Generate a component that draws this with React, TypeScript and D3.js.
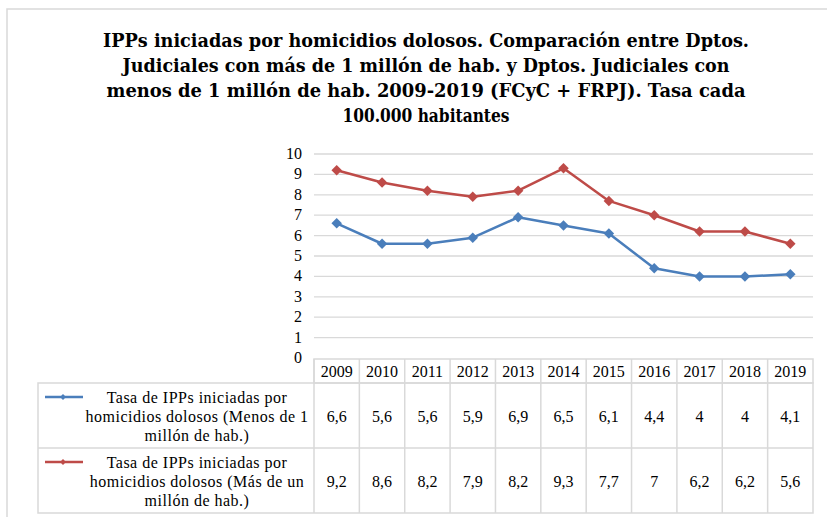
import * as d3 from "d3";
import React from "react";

const years = ["2009", "2010", "2011", "2012", "2013", "2014", "2015", "2016", "2017", "2018", "2019"];
const menosValues = [6.6, 5.6, 5.6, 5.9, 6.9, 6.5, 6.1, 4.4, 4, 4, 4.1];
const masValues = [9.2, 8.6, 8.2, 7.9, 8.2, 9.3, 7.7, 7, 6.2, 6.2, 5.6];
const yTicks = [0, 1, 2, 3, 4, 5, 6, 7, 8, 9, 10];

const titleLines = [
  "IPPs iniciadas por homicidios  dolosos. Comparación  entre Dptos.",
  "Judiciales con más de 1 millón de hab. y Dptos. Judiciales con",
  "menos de 1 millón de hab. 2009-2019 (FCyC + FRPJ). Tasa cada",
  "100.000 habitantes",
];
const titleWidths = [646, 607, 639, 167];

const series = [
  {
    name: ["Tasa de IPPs iniciadas por", "homicidios dolosos (Menos de 1", "millón de hab.)"],
    values: menosValues,
    color: "#4a7ebb",
  },
  {
    name: ["Tasa de IPPs iniciadas por", "homicidios dolosos (Más de un", "millón de hab.)"],
    values: masValues,
    color: "#be4b48",
  },
];

const fmt = (v: number) => String(v).replace(".", ",");

export default function App() {
  const width = 827;
  const height = 517;
  const font = '"Liberation Serif", "Times New Roman", "DejaVu Serif", serif';
  const titleFont = '"DejaVu Serif", serif';
  const grid = "#d9d9d9";

  const plotLeft = 314;
  const plotRight = 813;
  const x = d3.scaleBand().domain(years).range([plotLeft, plotRight]);
  const y = d3.scaleLinear().domain([0, 10]).range([358, 154]);

  const headerTop = 359;
  const headerBottom = 383;
  const rowH = 65;
  const legendLeft = 38;

  const diamond = d3.symbol().type(d3.symbolDiamond2).size(70);
  const smallDiamond = d3.symbol().type(d3.symbolDiamond2).size(22);

  const cx = (i: number) => (x(years[i]) as number) + x.bandwidth() / 2;

  const line = d3
    .line<number>()
    .x((_, i) => cx(i))
    .y((d) => y(d));

  return (
    <svg
      width={width}
      height={height}
      style={{ position: "absolute", left: 0, top: 0, background: "white", fontFamily: font }}
    >
      {/* chart border */}
      <rect x={7} y={9} width={width} height={height} fill="white" stroke={grid} strokeWidth={1.5} />

      {/* title */}
      {titleLines.map((t, i) => (
        <text
          key={i}
          x={426}
          y={47 + i * 25}
          textAnchor="middle"
          fontSize={18}
          fontWeight="bold"
          fill="#000"
          style={{ fontFamily: titleFont }}
          textLength={titleWidths[i]}
          lengthAdjust="spacingAndGlyphs"
        >
          {t}
        </text>
      ))}

      {/* gridlines */}
      {yTicks.slice(1).map((t) => (
        <line key={t} x1={plotLeft} x2={plotRight} y1={y(t)} y2={y(t)} stroke={grid} strokeWidth={1.3} />
      ))}

      {/* y labels */}
      {yTicks.map((t) => (
        <text key={t} x={302} y={y(t) + 5} textAnchor="end" fontSize={16} fill="#000" style={{ fontFamily: font }}>
          {t}
        </text>
      ))}

      {/* lines */}
      {series.map((s, si) => (
        <g key={si}>
          <path d={line(s.values) as string} fill="none" stroke={s.color} strokeWidth={2.5} strokeLinejoin="round" />
          {s.values.map((v, i) => (
            <path key={i} d={diamond() as string} transform={`translate(${cx(i)},${y(v)})`} fill={s.color} />
          ))}
        </g>
      ))}

      {/* data table */}
      <g stroke={grid} strokeWidth={1.5} fill="none">
        <rect x={plotLeft} y={headerTop} width={plotRight - plotLeft} height={headerBottom - headerTop} />
        <rect x={legendLeft} y={headerBottom} width={plotRight - legendLeft} height={rowH * 2} />
        <line x1={legendLeft} x2={plotRight} y1={headerBottom + rowH} y2={headerBottom + rowH} />
        {years.map((yr) => (
          <line key={yr} x1={x(yr)} x2={x(yr)} y1={headerTop} y2={headerBottom + rowH * 2} />
        ))}
      </g>

      {years.map((yr, i) => (
        <text key={yr} x={cx(i)} y={headerBottom - 6} textAnchor="middle" fontSize={16} fill="#000" style={{ fontFamily: font }}>
          {yr}
        </text>
      ))}

      {series.map((s, si) => {
        const top = headerBottom + si * rowH;
        return (
          <g key={si}>
            <line x1={45} x2={83} y1={top + 14} y2={top + 14} stroke={s.color} strokeWidth={2.5} />
            <path d={smallDiamond() as string} transform={`translate(63,${top + 14})`} fill={s.color} />
            {s.name.map((n, li) => (
              <text
                key={li}
                x={197}
                y={top + 20 + li * 19}
                textAnchor="middle"
                fontSize={16}
                letterSpacing={0.5}
                fill="#000"
                style={{ fontFamily: font }}
              >
                {n}
              </text>
            ))}
            {s.values.map((v, i) => (
              <text key={i} x={cx(i)} y={top + rowH / 2 + 6} textAnchor="middle" fontSize={16} fill="#000" style={{ fontFamily: font }}>
                {fmt(v)}
              </text>
            ))}
          </g>
        );
      })}
    </svg>
  );
}
